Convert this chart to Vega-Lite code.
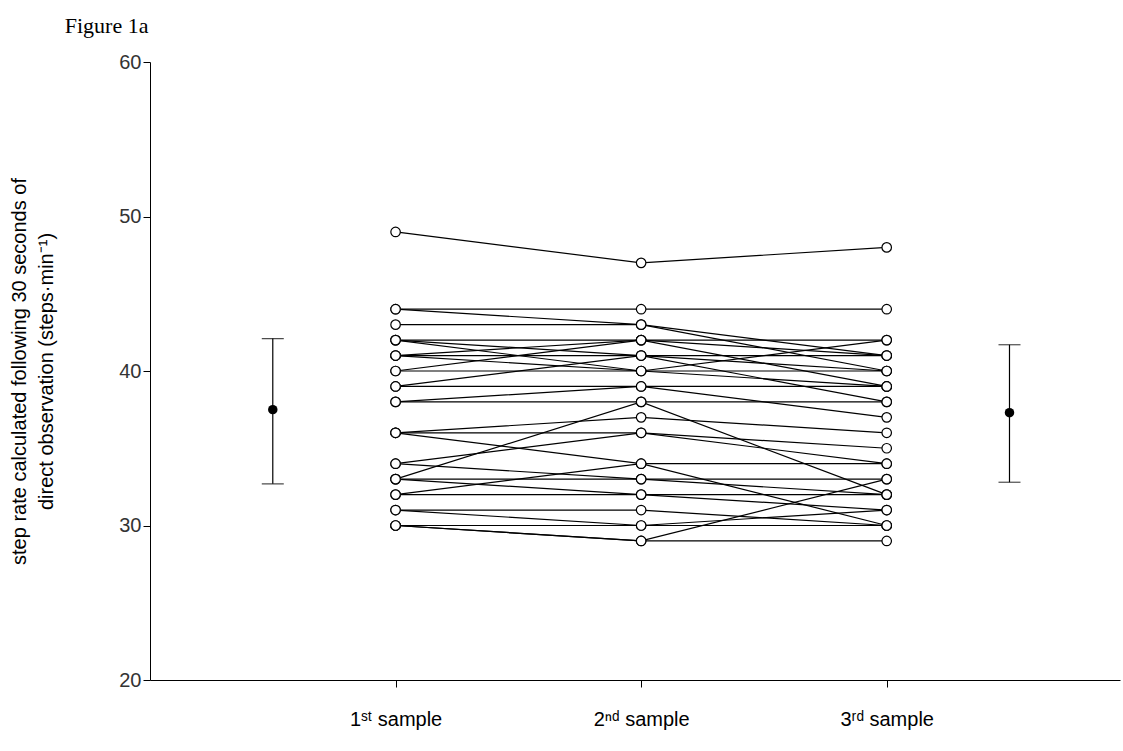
{
  "$schema": "https://vega.github.io/schema/vega-lite/v6.json",
  "width": 970,
  "height": 618,
  "autosize": {"type": "none"},
  "padding": {"left": 150, "top": 62, "right": 3, "bottom": 71},
  "background": "white",
  "title": {"text": "Figure 1a", "font": "Liberation Serif", "fontSize": 22, "fontWeight": "normal", "anchor": "start", "dx": 55, "dy": -14, "color": "black", "offset": 0},
  "datasets": {
    "subjects": [
      {"id": 1, "a": 49, "b": 47, "c": 48},
      {"id": 2, "a": 44, "b": 44, "c": 44},
      {"id": 3, "a": 44, "b": 43, "c": 41},
      {"id": 4, "a": 43, "b": 43, "c": 40},
      {"id": 5, "a": 42, "b": 42, "c": 42},
      {"id": 6, "a": 42, "b": 41, "c": 40},
      {"id": 7, "a": 42, "b": 40, "c": 39},
      {"id": 8, "a": 41, "b": 41, "c": 41},
      {"id": 9, "a": 41, "b": 42, "c": 41},
      {"id": 10, "a": 41, "b": 40, "c": 42},
      {"id": 11, "a": 40, "b": 40, "c": 40},
      {"id": 12, "a": 40, "b": 42, "c": 39},
      {"id": 13, "a": 39, "b": 39, "c": 39},
      {"id": 14, "a": 39, "b": 41, "c": 38},
      {"id": 15, "a": 38, "b": 38, "c": 38},
      {"id": 16, "a": 38, "b": 39, "c": 37},
      {"id": 17, "a": 36, "b": 37, "c": 36},
      {"id": 18, "a": 36, "b": 36, "c": 35},
      {"id": 19, "a": 36, "b": 34, "c": 34},
      {"id": 20, "a": 34, "b": 36, "c": 34},
      {"id": 21, "a": 34, "b": 33, "c": 33},
      {"id": 22, "a": 33, "b": 33, "c": 32},
      {"id": 23, "a": 33, "b": 32, "c": 31},
      {"id": 24, "a": 33, "b": 38, "c": 32},
      {"id": 25, "a": 32, "b": 32, "c": 32},
      {"id": 26, "a": 32, "b": 34, "c": 30},
      {"id": 27, "a": 31, "b": 31, "c": 30},
      {"id": 28, "a": 31, "b": 30, "c": 31},
      {"id": 29, "a": 30, "b": 30, "c": 30},
      {"id": 30, "a": 30, "b": 29, "c": 29},
      {"id": 31, "a": 30, "b": 29, "c": 33}
    ],
    "means": [
      {"pos": 0.5, "mean": 37.5, "lo": 32.7, "hi": 42.1},
      {"pos": 3.5, "mean": 37.3, "lo": 32.8, "hi": 41.7}
    ]
  },
  "config": {
    "view": {"stroke": null},
    "axis": {"grid": false, "domainColor": "black", "tickColor": "black", "labelFont": "Liberation Sans", "titleFont": "Liberation Sans", "labelFontSize": 19, "titleFontSize": 20, "titleFontWeight": "normal", "labelColor": "black", "titleColor": "black", "tickSize": 7}
  },
  "layer": [
    {
      "data": {"name": "subjects"},
      "transform": [
        {"fold": ["a", "b", "c"], "as": ["sample", "rate"]},
        {"lookup": "sample", "from": {"data": {"values": [{"k": "a", "x": 1}, {"k": "b", "x": 2}, {"k": "c", "x": 3}]}, "key": "k", "fields": ["x"]}}
      ],
      "layer": [
        {
          "mark": {"type": "line", "color": "black", "strokeWidth": 1.2},
          "encoding": {
            "x": {"field": "x", "type": "quantitative", "scale": {"domain": [0, 3.95], "nice": false}, "axis": {"values": [1, 2, 3], "title": null, "labelPadding": 22, "labelFontSize": 20, "labelExpr": "datum.value == 1 ? '1ˢᵗ sample' : datum.value == 2 ? '2ⁿᵈ sample' : '3ʳᵈ sample'"}},
            "y": {"field": "rate", "type": "quantitative", "scale": {"domain": [20, 60], "nice": false}, "axis": {"values": [20, 30, 40, 50, 60], "labelColor": "#333", "labelFontSize": 20, "titleLineHeight": 27, "titlePadding": 62, "title": ["step rate calculated following 30 seconds of", "direct observation (steps·min⁻¹)"]}},
            "detail": {"field": "id"}
          }
        },
        {
          "mark": {"type": "point", "shape": "circle", "filled": true, "fill": "white", "stroke": "black", "strokeWidth": 1.2, "size": 90, "opacity": 1},
          "encoding": {
            "x": {"field": "x", "type": "quantitative"},
            "y": {"field": "rate", "type": "quantitative"}
          }
        }
      ]
    },
    {
      "data": {"name": "means"},
      "layer": [
        {"mark": {"type": "rule", "color": "black", "strokeWidth": 1.2},
         "encoding": {"x": {"field": "pos", "type": "quantitative"}, "y": {"field": "lo", "type": "quantitative"}, "y2": {"field": "hi"}}},
        {"mark": {"type": "tick", "orient": "horizontal", "color": "black", "size": 22, "thickness": 1.2},
         "encoding": {"x": {"field": "pos", "type": "quantitative"}, "y": {"field": "lo", "type": "quantitative"}}},
        {"mark": {"type": "tick", "orient": "horizontal", "color": "black", "size": 22, "thickness": 1.2},
         "encoding": {"x": {"field": "pos", "type": "quantitative"}, "y": {"field": "hi", "type": "quantitative"}}},
        {"mark": {"type": "point", "shape": "circle", "filled": true, "color": "black", "size": 90, "opacity": 1},
         "encoding": {"x": {"field": "pos", "type": "quantitative"}, "y": {"field": "mean", "type": "quantitative"}}}
      ]
    }
  ]
}
